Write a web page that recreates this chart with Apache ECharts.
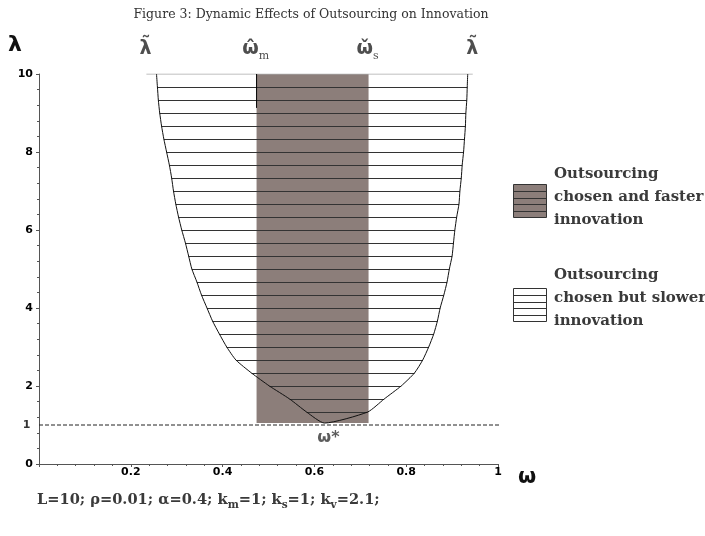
<!DOCTYPE html>
<html><head><meta charset="utf-8">
<script src="https://cdn.jsdelivr.net/npm/echarts@6/dist/echarts.min.js"></script>
<style>html,body{margin:0;padding:0;background:#fff}#c{width:705px;height:536px}</style>
</head><body><div id="c"></div>
<script>
// ---- data ----
const curveLambda = [10, 9.667, 9.333, 9, 8.667, 8.333, 8, 7.667, 7.333, 7, 6.667, 6.333, 6, 5.667, 5.333, 5, 4.667, 4.333, 4, 3.667, 3.333, 3, 2.667, 2.333, 2, 1.667, 1.333];
const leftOmega  = [0.256, 0.258, 0.260, 0.263, 0.267, 0.272, 0.278, 0.284, 0.289, 0.293, 0.298, 0.304, 0.311, 0.319, 0.326, 0.333, 0.344, 0.354, 0.366, 0.378, 0.393, 0.409, 0.429, 0.463, 0.502, 0.546, 0.583];
const rightOmega = [0.934, 0.933, 0.932, 0.930, 0.929, 0.927, 0.925, 0.922, 0.920, 0.917, 0.915, 0.910, 0.906, 0.903, 0.900, 0.894, 0.889, 0.882, 0.874, 0.868, 0.860, 0.849, 0.836, 0.818, 0.789, 0.752, 0.716];
const minPoint = [0.622, 1.05];          // omega*, bottom of the curve
const bandOmega = [0.474, 0.718];        // omega_m hat .. omega_s check
const bandLambda = [1.05, 10];
const topLineOmega = [0.234, 0.945];     // light line at lambda = 10
const markOmega = 0.474;
const markLambda = [9.13, 10];
const thresholdLambda = 1;
const thresholdOmega = [0, 1.026];
const topLabelOmega = [0.232, 0.472, 0.716, 0.944];
const topLabelText = ['{a|λ\u0303}', '{a|ω\u0302}{s|m}', '{a|ω\u030C}{s|s}', '{a|λ\u0303}'];
const xTickInterval = 0.2;
const yTickInterval = 2;
const legendTexts = ['Outsourcing\nchosen and faster\ninnovation', 'Outsourcing\nchosen but slower\ninnovation'];
const paramText = '{n|L=10; ρ=0.01; α=0.4; k}{s|m}{n|=1; k}{s|s}{n|=1; k}{s|v}{n|=2.1;}';

// ---- build ----
const chart = echarts.init(document.getElementById('c'));
const curveData = leftOmega.map((w, i) => [w, curveLambda[i]])
  .concat([minPoint])
  .concat(rightOmega.map((w, i) => [w, curveLambda[i]]).reverse());
const hatchData = curveLambda.slice(1).map((l, i) => [leftOmega[i + 1], rightOmega[i + 1], l]);

const BROWN = '#8c7e7a';
const axisColor = '#555';
const tickFont = {fontFamily: 'DejaVu Sans', fontWeight: 'bold', fontSize: 11, color: '#000'};

function legendBox(x, y, fill) {
  const kids = [{type: 'rect', shape: {x: x, y: y, width: 33, height: 33}, style: {fill: fill, stroke: '#333', lineWidth: 1}}];
  for (let k = 1; k < 5; k++) {
    const yy = Math.round(y + k * 33 / 5) + 0.5;
    kids.push({type: 'line', shape: {x1: x, y1: yy, x2: x + 33, y2: yy}, style: {stroke: '#333', lineWidth: 1}});
  }
  return kids;
}

const legendFont = {fontFamily: 'DejaVu Serif', fontWeight: 'bold', fontSize: 15, lineHeight: 23, fill: '#3a3a3a'};

const option = {
  animation: false,
  backgroundColor: '#fff',
  title: {
    text: 'Figure 3: Dynamic Effects of Outsourcing on Innovation',
    left: 306, top: 3, textAlign: 'center',
    textStyle: {fontFamily: 'DejaVu Serif', fontSize: 12.5, fontWeight: 'normal', color: '#333'}
  },
  grid: {left: 39, right: 207, top: 74, bottom: 72},
  xAxis: {
    type: 'value', min: 0, max: 1, interval: xTickInterval,
    axisLine: {lineStyle: {color: axisColor}},
    axisTick: {length: 3, lineStyle: {color: axisColor}},
    minorTick: {show: true, splitNumber: 5, length: 2, lineStyle: {color: axisColor}},
    splitLine: {show: false},
    axisLabel: Object.assign({showMinLabel: false, margin: 3}, tickFont)
  },
  yAxis: {
    type: 'value', min: 0, max: 10, interval: yTickInterval,
    axisLine: {show: true, lineStyle: {color: axisColor}},
    axisTick: {show: true, length: 3, lineStyle: {color: axisColor}},
    minorTick: {show: true, splitNumber: 5, length: 2, lineStyle: {color: axisColor}},
    splitLine: {show: false},
    axisLabel: Object.assign({margin: 6}, tickFont)
  },
  series: [
    {
      type: 'custom', z: 1, silent: true,
      data: [[bandOmega[0], bandOmega[1], bandLambda[0], bandLambda[1]]],
      encode: {x: [0, 1], y: [2, 3]},
      renderItem: function (params, api) {
        const p0 = api.coord([api.value(0), api.value(3)]);
        const p1 = api.coord([api.value(1), api.value(2)]);
        return {type: 'rect', shape: {x: p0[0], y: p0[1], width: p1[0] - p0[0], height: p1[1] - p0[1]}, style: {fill: BROWN}};
      }
    },
    {
      type: 'custom', z: 2, silent: true,
      data: hatchData,
      encode: {x: [0, 1], y: 2},
      renderItem: function (params, api) {
        const a = api.coord([api.value(0), api.value(2)]);
        const b = api.coord([api.value(1), api.value(2)]);
        const y = Math.round(a[1]) + 0.5;
        return {type: 'line', shape: {x1: a[0], y1: y, x2: b[0], y2: y}, style: {stroke: '#333', lineWidth: 1}};
      }
    },
    {
      type: 'line', z: 2, silent: true, symbol: 'none',
      data: topLineOmega.map(w => [w, bandLambda[1]]),
      lineStyle: {color: '#aaa', width: 1}
    },
    {
      type: 'line', z: 3, silent: true, symbol: 'none',
      data: markLambda.map(l => [markOmega, l]),
      lineStyle: {color: '#000', width: 1}
    },
    {
      type: 'line', z: 3, silent: true, symbol: 'none', smooth: 0.2,
      data: curveData,
      lineStyle: {color: '#111', width: 1}
    },
    {
      type: 'line', z: 3, silent: true, symbol: 'none', clip: false,
      data: thresholdOmega.map(w => [w, thresholdLambda]),
      lineStyle: {color: '#222', width: 1, type: [4, 2]}
    },
    {
      type: 'scatter', z: 4, silent: true, symbolSize: 1,
      itemStyle: {color: 'rgba(0,0,0,0)'},
      data: [
        {value: [0, thresholdLambda], label: Object.assign({show: true, formatter: '1', position: 'left', distance: 8}, tickFont)},
        {value: minPoint, label: {show: true, formatter: 'ω*', position: 'bottom', distance: 6, fontFamily: 'DejaVu Sans', fontWeight: 'bold', fontSize: 16, color: '#333', offset: [4, 0]}}
      ]
    },
    {
      type: 'scatter', z: 4, silent: true, symbolSize: 1, clip: false,
      itemStyle: {color: 'rgba(0,0,0,0)'},
      data: topLabelOmega.map((w, i) => ({value: [w, bandLambda[1]], label: {show: true, formatter: topLabelText[i]}})),
      label: {
        position: 'top', distance: 12,
        rich: {
          a: {fontFamily: 'DejaVu Sans', fontWeight: 'bold', fontSize: 19, lineHeight: 22, verticalAlign: 'top', color: '#222'},
          s: {fontFamily: 'DejaVu Serif', fontSize: 11, lineHeight: 12, padding: [14, 0, 0, 0], verticalAlign: 'bottom', color: '#222'}
        }
      }
    }
  ],
  graphic: [
    {type: 'text', left: 8, top: 34, style: {text: 'λ', fontFamily: 'DejaVu Sans', fontWeight: 'bold', fontSize: 22, fill: '#111'}},
    {type: 'text', left: 518, top: 467, style: {text: 'ω', fontFamily: 'DejaVu Sans', fontWeight: 'bold', fontSize: 21, fill: '#111'}},
    {type: 'group', children: legendBox(513.5, 184.5, BROWN)},
    {type: 'group', children: legendBox(513.5, 288.5, '#fff')},
    {type: 'text', left: 554, top: 163, style: Object.assign({text: legendTexts[0]}, legendFont)},
    {type: 'text', left: 554, top: 264, style: Object.assign({text: legendTexts[1]}, legendFont)},
    {type: 'text', left: 37, top: 490, style: {
      text: paramText,
      rich: {
        n: {fontFamily: 'DejaVu Serif', fontWeight: 'bold', fontSize: 14.6, lineHeight: 18, verticalAlign: 'top', fill: '#3a3a3a'},
        s: {fontFamily: 'DejaVu Serif', fontWeight: 'bold', fontSize: 10.5, lineHeight: 10, padding: [10, 0, 0, 0], verticalAlign: 'bottom', fill: '#3a3a3a'}
      }
    }}
  ]
};
chart.setOption(option);
</script>
</body></html>
